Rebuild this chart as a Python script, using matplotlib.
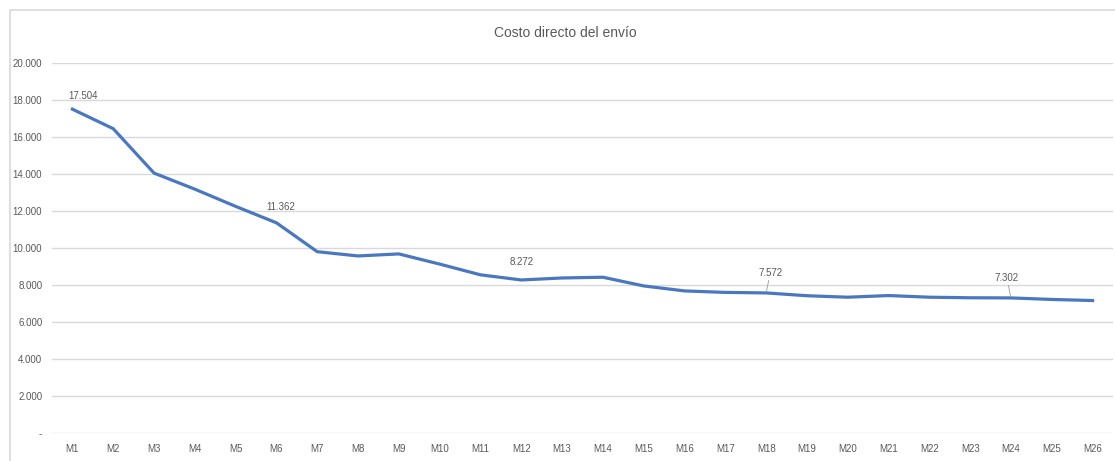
import matplotlib.pyplot as plt
from matplotlib.ticker import FuncFormatter
from matplotlib.patches import Rectangle

# costo directo del envío por mes
meses = [f"M{i}" for i in range(1, 27)]
costo = [17504, 16450, 14050, 13180, 12250, 11362, 9800, 9570, 9680, 9130,
         8550, 8272, 8380, 8420, 7950, 7680, 7600, 7572, 7420, 7340,
         7430, 7340, 7310, 7302, 7220, 7160]

# etiquetas visibles: índice -> desplazamiento (px) y si lleva línea guía
etiquetas = {0: (8, 6, False), 5: (3, 8, False), 11: (0, 9, False),
             17: (3, 11, True), 23: (-3, 11, True)}

plt.rcParams['font.family'] = ['Liberation Sans', 'DejaVu Sans']
gris = '#595959'

fig = plt.figure(figsize=(11.15, 4.61), dpi=100)
fig.patches.append(Rectangle((10 / 1115, -0.1), 1.2, (461 - 10) / 461 + 0.1,
                             transform=fig.transFigure, fill=False,
                             edgecolor='#d9d9d9', linewidth=1.2))
ax = fig.add_axes([52 / 1115, 28 / 461, (1113 - 52) / 1115, 370 / 461])

x = list(range(len(meses)))
ax.plot(x, costo, color='#4a78c0', linewidth=2.3, solid_joinstyle='round')

for i, (dx, dy, guia) in etiquetas.items():
    txt = f"{costo[i]:,}".replace(',', '.')
    if guia:
        ax.annotate(txt, (x[i], costo[i]), xytext=(dx, dy), textcoords='offset points',
                    ha='center', va='bottom', fontsize=7, color=gris,
                    arrowprops=dict(arrowstyle='-', color='#a6a6a6', lw=0.7,
                                    shrinkA=0, shrinkB=1))
    else:
        ax.annotate(txt, (x[i], costo[i]), xytext=(dx, dy), textcoords='offset points',
                    ha='center', va='bottom', fontsize=7, color=gris)

ax.set_xlim(-0.5, len(meses) - 0.5)
ax.set_ylim(0, 20000)
ax.set_yticks(range(0, 20001, 2000))
ax.yaxis.set_major_formatter(FuncFormatter(
    lambda v, p: '-' if v == 0 else f"{int(v):,}".replace(',', '.')))
ax.set_xticks(x)
ax.set_xticklabels(meses)
ax.tick_params(axis='both', length=0, labelsize=7, labelcolor=gris)
ax.tick_params(axis='x', pad=8)
ax.tick_params(axis='y', pad=7)
ax.grid(axis='y', color='#d9d9d9', linewidth=1)
ax.set_axisbelow(True)
for s in ax.spines.values():
    s.set_visible(False)

fig.text(565 / 1115, 1 - 33 / 461, 'Costo directo del envío', ha='center', va='center',
         fontsize=10, color=gris)

fig.savefig('out.png', dpi=100)
